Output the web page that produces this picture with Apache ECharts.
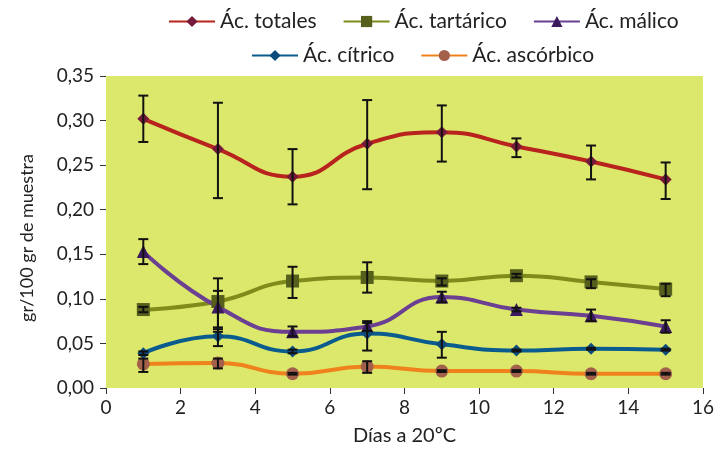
<!DOCTYPE html>
<html><head><meta charset="utf-8">
<script src="https://cdn.jsdelivr.net/npm/echarts@6/dist/echarts.min.js"></script>
<style>html,body{margin:0;padding:0;background:#fff}#c{width:717px;height:451px}</style>
</head><body><div id="c"></div>
<script>
const days = [1, 3, 5, 7, 9, 11, 13, 15];
const names = ['Ác. totales', 'Ác. tartárico', 'Ác. málico', 'Ác. cítrico', 'Ác. ascórbico'];
const totales   = [0.302, 0.268, 0.237, 0.274, 0.287, 0.271, 0.254, 0.234];
const totalesLo = [0.276, 0.213, 0.206, 0.223, 0.254, 0.259, 0.234, 0.212];
const totalesHi = [0.328, 0.320, 0.268, 0.323, 0.317, 0.280, 0.272, 0.253];
const tartarico   = [0.088, 0.097, 0.120, 0.124, 0.120, 0.126, 0.119, 0.111];
const tartaricoLo = [0.085, 0.068, 0.101, 0.107, 0.115, 0.124, 0.112, 0.103];
const tartaricoHi = [0.091, 0.123, 0.136, 0.141, 0.123, 0.128, 0.122, 0.117];
const malico   = [0.153, 0.091, 0.063, 0.069, 0.102, 0.088, 0.081, 0.069];
const malicoLo = [0.139, 0.063, 0.058, 0.064, 0.096, 0.086, 0.075, 0.062];
const malicoHi = [0.167, 0.109, 0.069, 0.075, 0.108, 0.090, 0.088, 0.076];
const citrico   = [0.039, 0.058, 0.041, 0.061, 0.049, 0.042, 0.044, 0.043];
const citricoLo = [0.037, 0.047, 0.039, 0.042, 0.034, 0.041, 0.043, 0.042];
const citricoHi = [0.041, 0.066, 0.043, 0.073, 0.063, 0.043, 0.045, 0.044];
const ascorbico   = [0.027, 0.028, 0.016, 0.024, 0.019, 0.019, 0.016, 0.016];
const ascorbicoLo = [0.018, 0.022, 0.015, 0.017, 0.018, 0.018, 0.015, 0.015];
const ascorbicoHi = [0.033, 0.033, 0.017, 0.030, 0.020, 0.020, 0.017, 0.017];
const xTicks = [0, 2, 4, 6, 8, 10, 12, 14, 16];
const yTicks = [0, 0.05, 0.10, 0.15, 0.20, 0.25, 0.30, 0.35];

const FONT = 'Lato';
const defs = [
  {vals: totales, lo: totalesLo, hi: totalesHi, line: '#b8231e', mark: '#76193a', sym: 'diamond', size: 12},
  {vals: tartarico, lo: tartaricoLo, hi: tartaricoHi, line: '#7f8b1a', mark: '#56601c', sym: 'rect', size: 13},
  {vals: malico, lo: malicoLo, hi: malicoHi, line: '#6b3f92', mark: '#3b1a5f', sym: 'triangle', size: 13},
  {vals: citrico, lo: citricoLo, hi: citricoHi, line: '#0b5c8e', mark: '#0b4c7c', sym: 'diamond', size: 12},
  {vals: ascorbico, lo: ascorbicoLo, hi: ascorbicoHi, line: '#f0821e', mark: '#a3614c', sym: 'circle', size: 13}
];

const series = [];
defs.forEach((d, i) => {
  series.push({
    name: names[i], type: 'line', smooth: 0.5, z: 3,
    data: days.map((x, k) => [x, d.vals[k]]),
    symbol: d.sym, symbolSize: d.size, showSymbol: true,
    lineStyle: {color: d.line, width: 4},
    itemStyle: {color: d.mark},
    emphasis: {disabled: true}
  });
  series.push({
    type: 'custom', z: 4, silent: true,
    data: days.map((x, k) => [x, d.lo[k], d.hi[k]]),
    renderItem: function (params, api) {
      const x = api.value(0);
      const p1 = api.coord([x, api.value(1)]);
      const p2 = api.coord([x, api.value(2)]);
      const hw = 5;
      const st = {stroke: '#111', lineWidth: 2};
      return {type: 'group', children: [
        {type: 'line', shape: {x1: p1[0], y1: p1[1], x2: p2[0], y2: p2[1]}, style: st},
        {type: 'line', shape: {x1: p1[0]-hw, y1: p1[1], x2: p1[0]+hw, y2: p1[1]}, style: st},
        {type: 'line', shape: {x1: p2[0]-hw, y1: p2[1], x2: p2[0]+hw, y2: p2[1]}, style: st}
      ]};
    }
  });
});

const chart = echarts.init(document.getElementById('c'), null, {renderer: 'canvas'});
const legendText = {fontFamily: FONT, fontSize: 21, color: '#222'};
chart.setOption({
  animation: false,
  textStyle: {fontFamily: FONT},
  legend: [
    {data: names.slice(0, 3), top: 6, left: 163, itemWidth: 46, itemHeight: 14, itemGap: 26, textStyle: legendText},
    {data: names.slice(3), top: 40, left: 246, itemWidth: 46, itemHeight: 14, itemGap: 26, textStyle: legendText}
  ],
  grid: {left: 106, right: 12, top: 76, bottom: 60, show: true, backgroundColor: '#dce86b', borderWidth: 0},
  xAxis: {
    type: 'value', min: xTicks[0], max: xTicks[xTicks.length-1], interval: 2,
    name: 'Días a 20ºC', nameLocation: 'middle', nameGap: 38,
    nameTextStyle: {fontFamily: FONT, fontSize: 20, color: '#222'},
    axisLine: {show: false},
    axisTick: {show: true, length: 6, lineStyle: {color: '#333'}},
    axisLabel: {fontFamily: FONT, fontSize: 19, color: '#222', margin: 10},
    splitLine: {show: false}
  },
  yAxis: {
    type: 'value', min: yTicks[0], max: yTicks[yTicks.length-1], interval: 0.05,
    name: 'gr/100 gr de muestra', nameLocation: 'middle', nameGap: 70,
    nameTextStyle: {fontFamily: FONT, fontSize: 18, color: '#222', padding: [0, 12, 0, 0]},
    axisLine: {show: false},
    axisTick: {show: true, length: 6, lineStyle: {color: '#333'}},
    axisLabel: {fontFamily: FONT, fontSize: 19, color: '#222', margin: 12,
      formatter: v => v.toFixed(2).replace('.', ',')},
    splitLine: {show: false}
  },
  series: series
});
</script></body></html>
